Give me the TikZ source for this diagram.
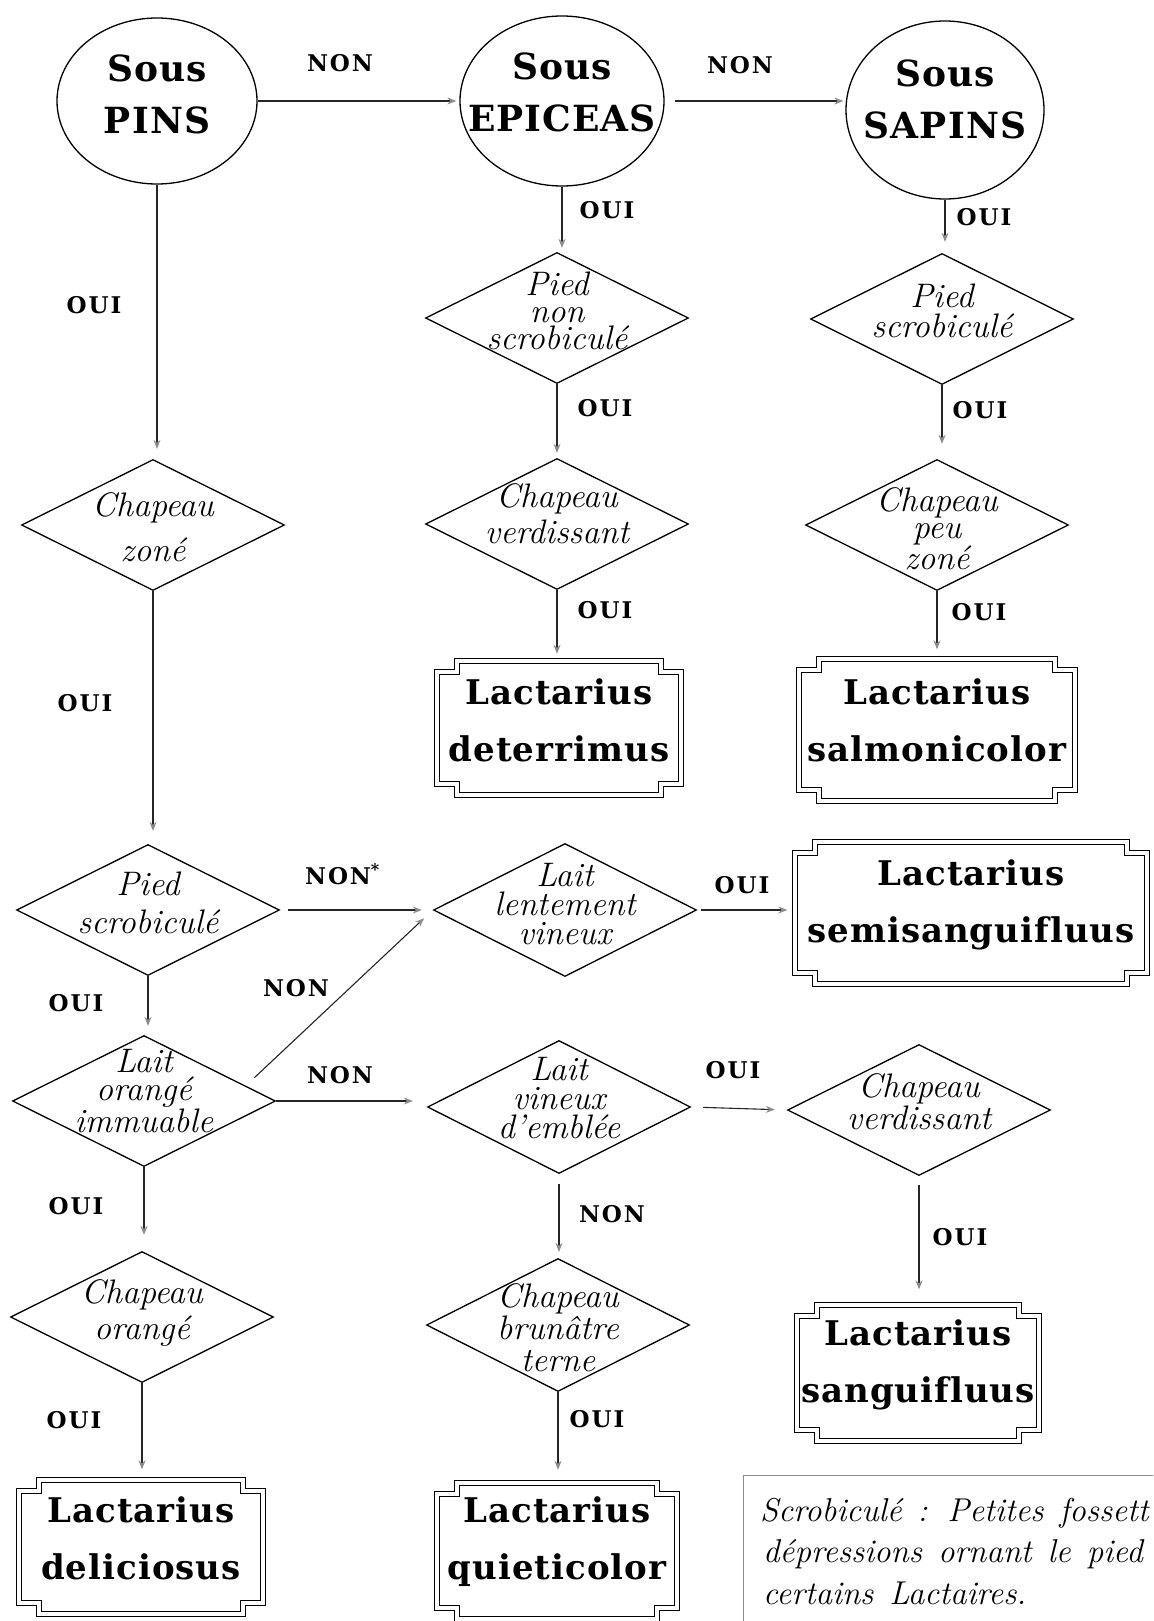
\documentclass[tikz,border=0pt]{standalone}
\usepackage{fontspec}
\usetikzlibrary{shapes.geometric,arrows.meta,calc}
\newfontfamily\dvs[LetterSpace=8,Ligatures=NoCommon]{DejaVu Serif}
\newfontfamily\dvsb[LetterSpace=3,Ligatures=NoCommon]{DejaVu Serif}
\newcommand\wsp{\spaceskip=16pt\relax}
\newcommand\nframe[1]{%
  \draw[frame] let \p1=(#1.south west), \p2=(#1.north east) in
  (\x1+20pt,\y2) -- (\x2-20pt,\y2) -- (\x2-20pt,\y2-11pt) -- (\x2,\y2-11pt) -- (\x2,\y1+11pt) -- (\x2-20pt,\y1+11pt) -- (\x2-20pt,\y1) -- (\x1+20pt,\y1) -- (\x1+20pt,\y1+11pt) -- (\x1,\y1+11pt) -- (\x1,\y2-11pt) -- (\x1+20pt,\y2-11pt) -- cycle
  (\x1+25pt,\y2-5pt) -- (\x2-25pt,\y2-5pt) -- (\x2-25pt,\y2-16pt) -- (\x2-5pt,\y2-16pt) -- (\x2-5pt,\y1+16pt) -- (\x2-25pt,\y1+16pt) -- (\x2-25pt,\y1+5pt) -- (\x1+25pt,\y1+5pt) -- (\x1+25pt,\y1+16pt) -- (\x1+5pt,\y1+16pt) -- (\x1+5pt,\y2-16pt) -- (\x1+25pt,\y2-16pt) -- cycle;}
\begin{document}
\begin{tikzpicture}[x=1pt,y=-1pt,
  ell/.style={ellipse, draw, line width=1.3pt, inner sep=0pt},
  q/.style={diamond, draw, line width=1.3pt, inner sep=0pt, minimum width=263pt, minimum height=131pt},
  qt/.style={font=\itshape\fontsize{34}{#1}\selectfont, align=center, inner sep=0pt},
  qt/.default=40,
  sp/.style={font=\dvsb\bfseries\fontsize{36}{52}\selectfont, align=center, inner sep=0pt},
  lab/.style={font=\dvs\bfseries\fontsize{23}{28}\selectfont, inner sep=0pt},
  res/.style={rectangle, inner sep=0pt},
  rt/.style={font=\dvsb\bfseries\fontsize{34}{57}\selectfont, align=center, inner sep=0pt},
  frame/.style={line width=1.2pt},
  conn/.style={draw=black!85, line width=1.1pt, -{Stealth[length=9pt,width=7pt,color=black!45]}, shorten >=8pt},
  notebox/.style={rectangle, draw=black!45, line width=1pt, inner sep=0pt},
  nt/.style={font=\itshape\fontsize{33}{40}\selectfont\wsp, inner sep=0pt}
]
\useasboundingbox (0,0) rectangle (1153,1621);
\fill[white] (0,0) rectangle (1153,1621);
\begin{scope}
\clip (0,0) rectangle (1153,1621);

% ellipses
\node[ell, minimum width=200pt, minimum height=166pt] (e_pins) at (157,101) {};
\node[ell, minimum width=204pt, minimum height=170pt] (e_epi) at (562,101) {};
\node[ell, minimum width=198pt, minimum height=178pt] (e_sap) at (945,110) {};
\node[sp] (t_pins) at (157,94) {Sous\\PINS};
\node[sp] (t_epi) at (562,92) {Sous\\EPICEAS};
\node[sp] (t_sap) at (945,99) {Sous\\SAPINS};

% diamonds
\node[q] (d_cz)  at (153,525) {};
\node[q] (d_ps1) at (148,910) {};
\node[q] (d_loi) at (144,1101) {};
\node[q] (d_co)  at (142,1317) {};
\node[q] (d_pns) at (557,318) {};
\node[q] (d_cv1) at (557,524) {};
\node[q, minimum height=133pt] (d_llv) at (565,910) {};
\node[q, minimum height=133pt] (d_lve) at (559,1107) {};
\node[q, minimum height=133pt] (d_cbt) at (558,1325) {};
\node[q] (d_ps3) at (942,319) {};
\node[q] (d_cpz) at (937,525) {};
\node[q] (d_cv3) at (919,1110) {};

\node[qt=45] (t_cz)  at (153,527) {Chapeau\\zoné};
\node[qt=38] (t_ps1) at (148,903) {Pied\\scrobiculé};
\node[qt=28] (t_loi) at (144,1091) {Lait\\orangé\\immuable};
\node[qt=36] (t_co)  at (142,1313) {Chapeau\\orangé};
\node[qt=27] (t_pns) at (557,311) {Pied\\non\\scrobiculé};
\node[qt=36] (t_cv1) at (557,514) {Chapeau\\verdissant};
\node[qt=29] (t_llv) at (565,904) {Lait\\lentement\\vineux};
\node[qt=29] (t_lve) at (559,1098) {Lait\\vineux\\d'emblée};
\node[qt=32] (t_cbt) at (558,1328) {Chapeau\\brunâtre\\terne};
\node[qt=30] (t_ps3) at (942,311) {Pied\\scrobiculé};
\node[qt=27] (t_cpz) at (937,529) {Chapeau\\peu\\zoné};
\node[qt=32] (t_cv3) at (919,1102) {Chapeau\\verdissant};

% result boxes
\node[res, minimum width=248pt, minimum height=138pt] (b_det)  at (559,728) {};
\node[res, minimum width=281pt, minimum height=147pt] (b_sal)  at (937,730) {};
\node[res, minimum width=357pt, minimum height=147pt] (b_semi) at (971,913) {};
\node[res, minimum width=246pt, minimum height=141pt] (b_san)  at (918,1373) {};
\node[res, minimum width=249pt, minimum height=139pt] (b_del)  at (141,1547) {};
\node[res, minimum width=245pt, minimum height=140pt] (b_qui)  at (557,1551) {};
\nframe{b_det}\nframe{b_sal}\nframe{b_semi}\nframe{b_san}\nframe{b_del}\nframe{b_qui}
\node[rt] (r_det)  at (559,720) {Lactarius\\deterrimus};
\node[rt] (r_sal)  at (937,720) {Lactarius\\salmonicolor};
\node[rt] (r_semi) at (971,905) {Lactarius\\semisanguifluus};
\node[rt] (r_san)  at (918,1365) {Lactarius\\sanguifluus};
\node[rt] (r_del)  at (141,1538) {Lactarius\\deliciosus};
\node[rt] (r_qui)  at (557,1542) {Lactarius\\quieticolor};

% connectors
\draw[conn, shorten >=3pt] (e_pins.east) -- (e_epi.west);
\draw[conn, shorten <=10pt, shorten >=2pt] (e_epi.east) -- (e_sap.west |- e_epi.east);
\draw[conn, shorten >=10pt] (e_pins.south) -- (e_pins.south |- d_cz.north);
\draw[conn, shorten >=13pt] (d_cz.south) -- (d_cz.south |- d_ps1.north);
\draw[conn, shorten <=8pt, shorten >=11pt] (d_ps1.east) -- (d_llv.west);
\draw[conn, shorten >=9pt] (d_ps1.south) -- (d_ps1.south |- d_loi.north);
\draw[conn, shorten <=12pt, shorten >=12pt] ($(d_loi.east)!0.23!(d_loi.north)$) -- (d_llv.west);
\draw[conn, shorten >=14pt] (d_loi.east) -- (d_loi.east -| d_lve.west);
\draw[conn, shorten >=16pt] (d_loi.south) -- (d_loi.south |- d_co.north);
\draw[conn, shorten >=8pt] (d_co.south) -- (d_co.south |- b_del.north);
\draw[conn, shorten >=4pt] (e_epi.south) -- (e_epi.south |- d_pns.north);
\draw[conn, shorten >=5pt] (d_pns.south) -- (d_pns.south |- d_cv1.north);
\draw[conn, shorten >=5pt] (d_cv1.south) -- (d_cv1.south |- b_det.north);
\draw[conn, shorten >=11pt] (e_sap.south) -- (e_sap.south |- d_ps3.north);
\draw[conn, shorten >=15pt] (d_ps3.south) -- (d_ps3.south |- d_cpz.north);
\draw[conn, shorten >=7pt] (d_cpz.south) -- (d_cpz.south |- b_sal.north);
\draw[conn, shorten <=4pt, shorten >=5pt] (d_llv.east) -- (b_semi.west |- d_llv.east);
\draw[conn, shorten <=12pt, shorten >=12pt] (d_lve.east) -- (d_cv3.west);
\draw[conn, shorten <=10pt, shorten >=6pt] (d_lve.south) -- (d_lve.south |- d_cbt.north);
\draw[conn, shorten >=11pt] (d_cbt.south) -- (d_cbt.south |- b_qui.north);
\draw[conn, shorten <=9pt, shorten >=13pt] (d_cv3.south) -- (d_cv3.south |- b_san.north);

% connector labels
\node[lab] (l_c1) at (340,63) {NON};
\node[lab] (l_c2) at (740,65) {NON};
\node[lab] (l_c3) at (94,305) {OUI};
\node[lab] (l_c4) at (85,703) {OUI};
\node[lab, anchor=west] (l_c5) at (305,874) {NON\textsuperscript{*}};
\node[lab] (l_c6) at (76,1003) {OUI};
\node[lab] (l_c7) at (296,988) {NON};
\node[lab] (l_c8) at (340,1075) {NON};
\node[lab] (l_c9) at (76,1206) {OUI};
\node[lab] (l_c10) at (74,1420) {OUI};
\node[lab] (l_c11) at (607,210) {OUI};
\node[lab] (l_c12) at (605,408) {OUI};
\node[lab] (l_c13) at (605,610) {OUI};
\node[lab] (l_c14) at (984,217) {OUI};
\node[lab] (l_c15) at (980,410) {OUI};
\node[lab] (l_c16) at (979,612) {OUI};
\node[lab] (l_c17) at (742,885) {OUI};
\node[lab] (l_c18) at (733,1070) {OUI};
\node[lab] (l_c19) at (612,1214) {NON};
\node[lab] (l_c20) at (597,1419) {OUI};
\node[lab] (l_c21) at (960,1237) {OUI};

% note
\node[notebox, anchor=north west, minimum width=500pt, minimum height=250pt] (note) at (743,1475) {};
\node[nt, anchor=base west] (n1) at (760,1521) {Scrobiculé : Petites fossett};
\node[nt, anchor=base west] (n2) at (763,1562) {dépressions ornant le pied};
\node[nt, anchor=base west] (n3) at (763,1604) {certains Lactaires.};
\end{scope}
\end{tikzpicture}
\end{document}
